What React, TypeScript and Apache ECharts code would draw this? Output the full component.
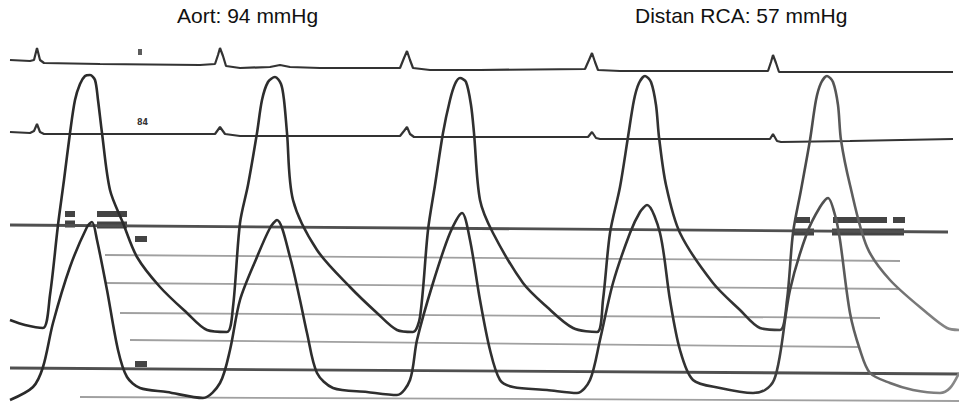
import React, { useEffect, useRef } from "react";
import * as echarts from "echarts";

// Time (horizontal, px-scale units) and tracing level (vertical, px-scale, top = 0)
const aortic: [number, number][] = [
  [10, 320], [25, 325], [43, 328], [50, 295], [58, 225], [64, 180], [70, 133], [75, 100], [80, 84], [85, 76], [90, 75],
  [95, 80], [98, 100], [102, 133], [110, 190], [123, 223], [137, 257], [160, 287], [187, 313], [207, 330], [227, 332],
  [233, 307], [240, 223], [248, 185], [257, 133], [262, 100], [268, 82], [275, 77], [281, 84], [284, 100], [287, 133],
  [293, 200], [317, 250], [350, 287], [377, 313], [397, 330], [413, 332],
  [420, 317], [428, 230], [435, 185], [443, 133], [450, 100], [455, 84], [460, 78], [466, 82], [471, 105], [474, 133],
  [480, 200], [493, 233], [523, 283], [547, 307], [573, 328], [597, 332],
  [603, 300], [610, 233], [620, 187], [628, 137], [634, 100], [639, 83], [645, 76], [651, 82], [656, 105], [659, 137],
  [666, 185], [680, 233], [713, 283], [740, 310], [760, 328], [780, 330],
  [787, 300], [793, 233], [801, 190], [810, 140], [816, 100], [821, 83], [827, 76], [833, 82], [838, 105], [841, 140],
  [850, 185], [867, 247], [890, 280], [927, 313], [947, 328], [959, 330],
];

const distalRca: [number, number][] = [
  [10, 400], [33, 387], [43, 367], [53, 323], [70, 267], [87, 227], [92, 222], [97, 240], [107, 290], [118, 350],
  [127, 377], [140, 388], [167, 392], [203, 398], [220, 383], [230, 350], [240, 300], [257, 257], [270, 228], [277, 220],
  [290, 257], [300, 300], [307, 333], [317, 373], [333, 388], [367, 392], [397, 395], [410, 380], [417, 340],
  [433, 283], [450, 233], [462, 213], [470, 240], [480, 300], [490, 350], [500, 380], [513, 387], [547, 390],
  [577, 393], [590, 380], [600, 340], [613, 283], [630, 233], [640, 212], [647, 205], [660, 233], [670, 300],
  [680, 350], [693, 380], [720, 388], [753, 393], [765, 390], [774, 380], [780, 355], [790, 290], [807, 233],
  [820, 207], [828, 198], [835, 215], [840, 240], [850, 313], [860, 350], [870, 373], [890, 383], [913, 390],
  [940, 393], [950, 388], [959, 373],
];

const ecgTop: [number, number][] = [
  [10, 60], [30, 61], [34, 60], [37, 48], [40, 60], [44, 63], [100, 64], [200, 65], [215, 64], [218, 55], [220, 48],
  [223, 56], [226, 66], [240, 68], [270, 67], [280, 65], [290, 67], [320, 68], [400, 68], [404, 58], [407, 51],
  [410, 60], [413, 68], [430, 70], [480, 70], [585, 69], [589, 60], [592, 53], [595, 62], [598, 70], [620, 71],
  [700, 71], [768, 71], [771, 62], [773, 55], [776, 63], [779, 72], [800, 72], [900, 72], [953, 72],
];

const ecgLower: [number, number][] = [
  [10, 132], [30, 133], [34, 131], [37, 124], [40, 132], [44, 134], [150, 134], [215, 134], [220, 127], [225, 134],
  [240, 136], [400, 136], [404, 131], [407, 127], [410, 134], [414, 137], [480, 137], [588, 137], [592, 132],
  [596, 138], [600, 139], [700, 139], [770, 139], [773, 134], [777, 141], [781, 142], [850, 141], [953, 139],
];

// Calibration lines: [x0, y0, x1, y1]
const thickLines: number[][] = [
  [10, 225, 948, 232],
  [10, 368, 959, 374],
];
const thinLines: number[][] = [
  [105, 255, 900, 261],
  [105, 283, 900, 289],
  [120, 313, 880, 318],
  [130, 340, 860, 347],
  [80, 397, 959, 401],
];

// Printed marker blocks: [x, y, w, h]
const markerBlocks: number[][] = [
  [70, 214, 10, 6], [70, 224, 10, 7], [112, 214, 30, 6], [112, 225, 30, 7], [141, 239, 12, 6], [141, 364, 12, 6],
  [803, 220, 14, 6], [804, 232, 20, 7], [860, 220, 54, 6], [899, 220, 12, 6], [868, 232, 72, 7],
];
const ecgDots: number[][] = [[140, 52, 4, 6]];

const titles = [
  { text: "Aort: 94 mmHg", left: 177 },
  { text: "Distan RCA: 57 mmHg", left: 635 },
];

export default function App() {
  const ref = useRef<HTMLDivElement>(null);
  useEffect(() => {
    if (!ref.current) return;
    const chart = echarts.init(ref.current, null, { renderer: "svg" });
    const traceColor = new echarts.graphic.LinearGradient(0, 0, 1, 0, [
      { offset: 0, color: "#2a2a2a" },
      { offset: 0.78, color: "#333333" },
      { offset: 1, color: "#8a8a8a" },
    ]);
    const lineSeries = (arr: number[][], color: string, width: number) =>
      arr.map((l) => ({
        type: "line",
        data: [[l[0], l[1]], [l[2], l[3]]],
        symbol: "none",
        silent: true,
        lineStyle: { color, width },
      }));
    chart.setOption({
      animation: false,
      backgroundColor: "#ffffff",
      title: titles.map((t) => ({
        text: t.text,
        left: t.left,
        top: 5,
        padding: 0,
        textStyle: { fontSize: 21, fontWeight: "normal", color: "#111", fontFamily: "Liberation Sans, Arial, sans-serif" },
      })),
      grid: { left: 0, right: 0, top: 0, bottom: 0 },
      xAxis: { type: "value", min: 0, max: 959, show: false },
      yAxis: { type: "value", min: 0, max: 405, inverse: true, show: false },
      graphic: [
        {
          type: "text",
          left: 137,
          top: 118,
          style: { text: "84", fontSize: 8, fontWeight: "bold", fill: "#333", fontFamily: "DejaVu Sans" },
        },
      ],
      series: [
        ...lineSeries(thinLines, "#a0a0a0", 1.8),
        ...lineSeries(thickLines, "#505050", 2.8),
        { type: "line", data: ecgTop, symbol: "none", lineStyle: { color: "#333333", width: 2.2 } },
        { type: "line", data: ecgLower, symbol: "none", lineStyle: { color: "#333333", width: 2.2 } },
        { type: "line", data: aortic, symbol: "none", smooth: 0.3, lineStyle: { color: traceColor, width: 2.6 } },
        { type: "line", data: distalRca, symbol: "none", smooth: 0.3, lineStyle: { color: traceColor, width: 2.6 } },
        {
          type: "scatter",
          data: markerBlocks.map((b) => ({ value: [b[0], b[1]], symbolSize: [b[2], b[3]] })),
          symbol: "rect",
          itemStyle: { color: "#151515" },
          silent: true,
        },
        {
          type: "scatter",
          data: ecgDots.map((b) => ({ value: [b[0], b[1]], symbolSize: [b[2], b[3]] })),
          symbol: "rect",
          itemStyle: { color: "#333" },
          silent: true,
        },
      ],
    });
    return () => chart.dispose();
  }, []);
  return <div ref={ref} style={{ position: "fixed", left: 0, top: 0, width: 959, height: 405 }} />;
}
